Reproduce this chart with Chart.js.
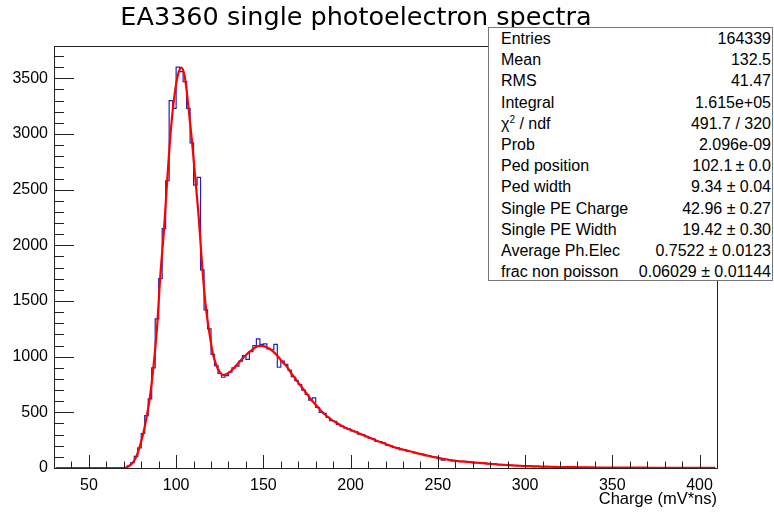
<!DOCTYPE html>
<html>
<head>
  <title>EA3360 single photoelectron spectra</title>
  <script src="https://cdn.jsdelivr.net/npm/chart.js"></script>
  <style>
    body { margin: 0; background: #fff; }
    #wrap { position: relative; width: 774px; height: 514px; }
    #title {
      position: absolute; left: 0; top: 1px; width: 712px;
      text-align: center; font-family: "DejaVu Sans", sans-serif;
      font-size: 25.5px; line-height: 30px; color: #000;
    }
    #stats {
      position: absolute; left: 488px; top: 27px; width: 285px; height: 254px;
      box-sizing: border-box; border: 1px solid #777; background: #fff;
      font-family: "Liberation Sans", Arial, sans-serif; font-size: 16px; color: #000;
      padding: 0 1px 0 12px;
    }
    #stats .row { display: flex; justify-content: space-between; height: 21.2px; line-height: 21.2px; white-space: nowrap; }
    #stats sup { font-size: 10px; line-height: 0; }
  </style>
</head>
<body>
  <div id="wrap">
    <canvas id="myChart" width="774" height="514"></canvas>
    <div id="title">EA3360 single photoelectron spectra</div>
    <div id="stats">
      <div class="row"><span>Entries</span><span>164339</span></div>
      <div class="row"><span>Mean</span><span>132.5</span></div>
      <div class="row"><span>RMS</span><span>41.47</span></div>
      <div class="row"><span>Integral</span><span>1.615e+05</span></div>
      <div class="row"><span>&chi;<sup>2</sup> / ndf</span><span>491.7 / 320</span></div>
      <div class="row"><span>Prob</span><span>2.096e-09</span></div>
      <div class="row"><span>Ped position</span><span>102.1&thinsp;&plusmn; 0.0</span></div>
      <div class="row"><span>Ped width</span><span>9.34 &plusmn; 0.04</span></div>
      <div class="row"><span>Single PE Charge</span><span>42.96 &plusmn; 0.27</span></div>
      <div class="row"><span>Single PE Width</span><span>19.42 &plusmn; 0.30</span></div>
      <div class="row"><span>Average Ph.Elec</span><span>0.7522 &plusmn; 0.0123</span></div>
      <div class="row"><span>frac non poisson</span><span>0.06029 &plusmn; 0.01144</span></div>
    </div>
  </div>
  <script>
    // histogram binning: 190 bins of 2 mV*ns from 30 to 410
    const binLow = 30;
    const binWidth = 2;

    // bin contents, 10 bins per line
    const counts = [
      0, 0, 0, 0, 0, 0, 0, 0, 0, 0,
      0, 0, 0, 0, 0, 0, 0, 0, 0, 1,
      4, 20, 48, 105, 180, 310, 470, 620, 900, 1340,
      1700, 2150, 2580, 3300, 3230, 3600, 3560, 3470, 3230, 2920,
      2540, 2610, 1780, 1420, 1250, 1020, 920, 850, 815, 830,
      860, 900, 915, 960, 1010, 975, 1045, 1100, 1160, 1110,
      1115, 1070, 1060, 1110, 905, 960, 930, 880, 820, 785,
      750, 700, 660, 610, 630, 545, 500, 490, 455, 425,
      418, 392, 375, 360, 352, 333, 327, 305, 300, 282,
      268, 262, 240, 238, 225, 205, 200, 185, 181, 165,
      163, 150, 148, 135, 128, 124, 112, 110, 99, 96,
      85, 70, 78, 72, 64, 66, 58, 59, 53, 54,
      47, 48, 42, 44, 37, 38, 33, 31, 28, 29,
      24, 23, 20, 21, 17, 14, 16, 13, 15, 12,
      11, 12, 10, 9, 10, 8, 8, 7, 8, 6,
      6, 5, 6, 4, 4, 3, 4, 2, 3, 3,
      2, 3, 2, 2, 3, 2, 2, 1, 2, 2,
      1, 2, 1, 1, 2, 1, 1, 1, 1, 1,
      0, 1, 1, 0, 1, 0, 1, 0, 0, 1
    ];

    // fitted function at the bin centres
    const fitValues = [
      0, 0, 0, 0, 0, 0, 0, 0, 0, 0,
      0, 0, 0, 0, 0, 0, 0, 0, 0, 0,
      2, 18, 45, 95, 185, 300, 450, 640, 910, 1250,
      1740, 2130, 2610, 3040, 3340, 3530, 3595, 3510, 3250, 2950,
      2600, 2240, 1800, 1450, 1220, 1030, 925, 860, 835, 845,
      865, 895, 930, 965, 1000, 1030, 1055, 1080, 1095, 1097,
      1090, 1075, 1055, 1025, 990, 950, 920, 875, 830, 790,
      745, 705, 665, 620, 585, 550, 515, 485, 458, 435,
      415, 395, 377, 362, 348, 336, 323, 310, 297, 285,
      272, 258, 245, 233, 222, 210, 198, 187, 178, 170,
      162, 154, 146, 138, 130, 122, 115, 108, 101, 95,
      88, 82, 76, 71, 67, 63, 60, 58, 55, 52,
      49, 47, 44, 42, 39, 36, 34, 31, 29, 27,
      25, 23, 21, 20, 18, 17, 16, 15, 14, 13,
      12, 12, 11, 10, 9, 9, 8, 8, 7, 7,
      6, 6, 5, 5, 5, 4, 4, 4, 4, 4,
      3, 3, 3, 3, 3, 3, 3, 3, 3, 3,
      2, 2, 2, 2, 2, 2, 2, 2, 2, 2,
      2, 2, 2, 2, 2, 2, 2, 2, 2, 2
    ];

    const xTickValues = [50, 100, 150, 200, 250, 300, 350, 400];
    const yTickValues = [0, 500, 1000, 1500, 2000, 2500, 3000, 3500];
    const xRange = [30, 410];
    const yRange = [0, 3790];

    const histPoints = counts.map((c, i) => ({ x: binLow + binWidth * (i + 0.5), y: c }));
    const fitPoints = fitValues.map((f, i) => ({ x: binLow + binWidth * (i + 0.5), y: f }));

    const labelFont = { family: 'Liberation Sans', size: 16 };

    // ROOT-like frame with inward tick marks
    const rootFrame = {
      id: 'rootFrame',
      afterDraw(chart) {
        const { ctx, chartArea: a, scales: { x, y } } = chart;
        ctx.save();
        ctx.strokeStyle = '#222';
        ctx.lineWidth = 1;
        ctx.beginPath();
        for (let v = 100; v < yRange[1]; v += 100) {
          const py = Math.round(y.getPixelForValue(v)) + 0.5;
          const len = v % 500 === 0 ? 20 : 10;
          ctx.moveTo(a.left, py);
          ctx.lineTo(a.left + len, py);
        }
        for (let v = 40; v < xRange[1]; v += 10) {
          const px = Math.round(x.getPixelForValue(v)) + 0.5;
          const len = v % 50 === 0 ? 13 : 6.5;
          ctx.moveTo(px, a.bottom);
          ctx.lineTo(px, a.bottom - len);
        }
        ctx.stroke();
        ctx.strokeRect(a.left + 0.5, a.top + 0.5, a.right - a.left, a.bottom - a.top);
        ctx.restore();
      }
    };

    const ctx = document.getElementById('myChart').getContext('2d');
    new Chart(ctx, {
      type: 'line',
      data: {
        datasets: [{
          label: 'fit',
          data: fitPoints,
          borderColor: '#ff0000',
          borderWidth: 2.2,
          cubicInterpolationMode: 'monotone',
          pointRadius: 0,
          fill: false,
          order: 0
        }, {
          label: 'histogram',
          data: histPoints,
          borderColor: 'rgb(35, 35, 175)',
          borderWidth: 1.2,
          stepped: 'middle',
          pointRadius: 0,
          fill: false,
          order: 1
        }]
      },
      options: {
        responsive: false,
        animation: false,
        layout: { padding: { top: 46, right: 57, left: 0, bottom: 0 } },
        plugins: {
          legend: { display: false },
          tooltip: { enabled: false }
        },
        scales: {
          x: {
            type: 'linear',
            min: xRange[0],
            max: xRange[1],
            afterFit: (s) => { s.height = 46; },
            afterBuildTicks: (s) => { s.ticks = xTickValues.map(v => ({ value: v })); },
            grid: { display: false, drawTicks: false },
            border: { display: false },
            ticks: { padding: 8, color: '#000', font: labelFont, maxRotation: 0, autoSkip: false, callback: (v) => String(v) },
            title: {
              display: true,
              text: 'Charge (mV*ns)',
              align: 'end',
              color: '#000',
              font: { family: 'Liberation Sans', size: 16.5 },
              padding: { top: 0, bottom: 5 }
            }
          },
          y: {
            type: 'linear',
            min: yRange[0],
            max: yRange[1],
            afterFit: (s) => { s.width = 54; },
            afterBuildTicks: (s) => { s.ticks = yTickValues.map(v => ({ value: v })); },
            grid: { display: false, drawTicks: false },
            border: { display: false },
            ticks: { padding: 6, color: '#000', font: labelFont, autoSkip: false, callback: (v) => String(v) }
          }
        }
      },
      plugins: [rootFrame]
    });
  </script>
</body>
</html>
